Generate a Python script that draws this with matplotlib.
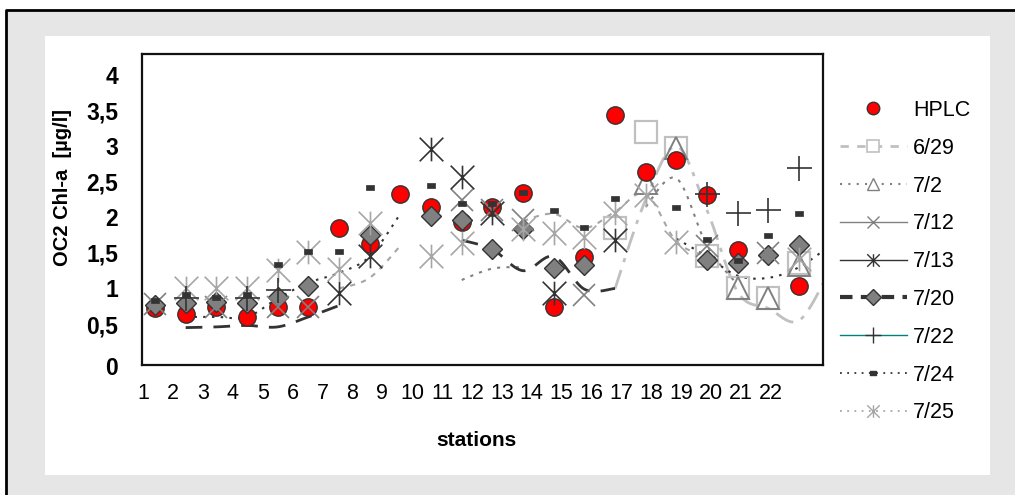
import numpy as np
import matplotlib
matplotlib.use("Agg")
import matplotlib.pyplot as plt
from matplotlib.path import Path
from matplotlib.lines import Line2D
from matplotlib.patches import Rectangle
from matplotlib.transforms import ScaledTranslation

plt.rcParams['font.family'] = ['Liberation Sans', 'DejaVu Sans']

nan = np.nan
stations = np.arange(1, 23)
curve_x = np.arange(1, 24)
tick_labels = [str(i) for i in range(1, 23)]
y_ticks = [0, 0.5, 1, 1.5, 2, 2.5, 3, 3.5, 4]
y_tick_labels = ["0", "0,5", "1", "1,5", "2", "2,5", "3", "3,5", "4"]

# Chl-a per station (NaN = no value)
hplc = [0.72, 0.64, 0.74, 0.60, 0.74, 0.74, 1.85, 1.63, 2.33, 2.15, 1.94,
        2.15, 2.34, 0.74, 1.44, 3.44, 2.64, 2.81, 2.32, 1.54, nan, 1.03]
d0629 = [nan, nan, nan, nan, nan, nan, nan, nan, nan, nan, nan,
         nan, nan, nan, nan, 1.85, 3.20, 2.97, 1.46, 1.00, 0.86, 1.36]
d0702 = [nan, nan, nan, nan, nan, nan, nan, nan, nan, nan, nan,
         nan, nan, nan, nan, nan, 2.48, 2.97, nan, 1.00, 0.86, 1.33]
d0712 = [0.78, nan, 0.74, nan, 0.74, 0.74, nan, nan, nan, nan, 2.24,
         2.10, 1.96, nan, 0.91, nan, nan, nan, 1.60, nan, 1.50, nan]
d0713 = [nan, nan, nan, nan, nan, nan, 0.93, 1.45, nan, 2.96, 2.57,
         2.06, nan, 0.93, nan, 1.68, nan, nan, nan, nan, nan, nan]
d0720 = [0.77, 0.79, 0.81, 0.80, 0.88, 1.03, nan, 1.75, nan, 2.02, 1.96,
         1.55, 1.83, 1.29, 1.33, nan, nan, nan, 1.40, 1.36, 1.47, 1.61]
d0722 = [nan, 0.86, nan, 0.86, 0.98, nan, nan, nan, nan, nan, nan,
         nan, nan, nan, nan, nan, nan, nan, 2.33, 2.06, 2.10, 2.70]
d0724 = [0.84, 0.92, 0.88, 0.92, 1.34, 1.53, 1.53, 2.43, nan, 2.45, 2.20,
         2.20, 2.36, 2.11, 1.87, 2.27, nan, 2.15, 1.69, 1.40, 1.75, 2.06]
d0725 = [nan, 1.00, 1.00, 1.00, 1.26, 1.52, 1.28, 1.92, nan, 1.45, 1.64,
         nan, 1.83, 1.78, 1.73, 2.06, 2.31, 1.66, nan, nan, nan, 1.42]

# smoothed connecting curves, stations 1..23 (NaN breaks the curve)
d0629_curve = [nan, nan, nan, nan, nan, nan, nan, nan, nan, nan, nan, nan,
               nan, nan, nan, 1.00, 2.25, 3.00, 2.10, 0.95, 0.72, 0.55, 1.25]
d0702_curve = [nan, nan, nan, nan, nan, nan, nan, nan, nan, nan, 1.12, 1.28,
               1.30, nan, nan, nan, 2.15, 2.55, 1.60, 1.05, nan, nan, nan]
d0720_curve = [nan, 0.45, 0.46, 0.48, 0.46, 0.60, 0.76, nan, nan, nan, 1.68,
               1.55, 1.25, 1.45, 0.99, 1.00, nan, nan, nan, nan, nan, nan, nan]
d0724_curve = [nan, 0.60, 0.60, 0.60, 0.86, 1.08, 1.22, 1.45, 2.05, nan, nan,
               nan, nan, nan, nan, nan, nan, 1.70, 1.45, 1.18, 1.15, 1.30, 1.60]
d0725_curve = [nan, nan, nan, nan, nan, nan, 1.00, 1.15, 1.60, nan, nan, nan,
               1.95, 2.05, 1.85, 2.08, 2.33, 1.66, 1.45, nan, nan, nan, nan]

DARK = "#333333"
GRAY = "#808080"
LIGHT = "#c0c0c0"
LIGHT2 = "#a6a6a6"

asterisk = Path([(-1, -1), (1, 1), (-1, 1), (1, -1), (0, -1), (0, 1)],
                [Path.MOVETO, Path.LINETO, Path.MOVETO, Path.LINETO,
                 Path.MOVETO, Path.LINETO])
bar_mark = Path([(-1, -0.6), (1, -0.6), (1, 0.6), (-1, 0.6), (-1, -0.6)],
                [Path.MOVETO, Path.LINETO, Path.LINETO, Path.LINETO,
                 Path.CLOSEPOLY])


def smooth_runs(x, y, n=16):
    """Split at NaNs and return Catmull-Rom smoothed runs."""
    x = np.asarray(x, float)
    y = np.asarray(y, float)
    runs, cur = [], []
    for xi, yi in zip(x, y):
        if np.isnan(yi):
            if cur:
                runs.append(cur)
            cur = []
        else:
            cur.append((xi, yi))
    if cur:
        runs.append(cur)
    out = []
    for r in runs:
        p = np.array(r)
        if len(p) < 2:
            continue
        xs, ys = [], []
        for i in range(len(p) - 1):
            p0 = p[i - 1] if i > 0 else p[i]
            p1, p2 = p[i], p[i + 1]
            p3 = p[i + 2] if i + 2 < len(p) else p[i + 1]
            for t in np.linspace(0, 1, n, endpoint=False):
                t2, t3 = t * t, t * t * t
                q = 0.5 * ((2 * p1) + (-p0 + p2) * t +
                           (2 * p0 - 5 * p1 + 4 * p2 - p3) * t2 +
                           (-p0 + 3 * p1 - 3 * p2 + p3) * t3)
                xs.append(q[0]); ys.append(q[1])
        xs.append(p[-1][0]); ys.append(p[-1][1])
        out.append((xs, ys))
    return out


W, H = 1015, 495
fig = plt.figure(figsize=(W / 100, H / 100), dpi=100)
fig.patch.set_facecolor("white")
# grey chart surround with a black rule along its top and left edges
fig.add_artist(Rectangle((6 / W, 0), 1, 1 - 10 / H, transform=fig.transFigure,
                         fc="#e6e6e6", ec="none", zorder=-10))
fig.add_artist(Line2D([6 / W, 6 / W, 1], [0, 1 - 10 / H, 1 - 10 / H],
                      transform=fig.transFigure, color="black", lw=2,
                      zorder=-8))
fig.add_artist(Rectangle((45 / W, 1 - 475 / H), (990 - 45) / W, (475 - 36) / H,
                         transform=fig.transFigure, fc="white", ec="none",
                         zorder=-9))

ax = fig.add_axes([141.7 / W, 1 - 364.5 / H, (823 - 141.7) / W, (364.5 - 54) / H])
ax.set_xlim(0.566, 22.78)
ax.set_ylim(-0.069, 4.298)
for s in ax.spines.values():
    s.set_linewidth(1.6)
    s.set_color("#111111")

curve_styles = [
    (d0629_curve, dict(color=LIGHT, lw=2.0, dashes=(7, 3, 1.5, 3))),
    (d0702_curve, dict(color=GRAY, lw=1.5, dashes=(1.5, 3))),
    (d0720_curve, dict(color=DARK, lw=2.0, dashes=(6, 4))),
    (d0724_curve, dict(color=DARK, lw=1.5, dashes=(1.2, 3))),
    (d0725_curve, dict(color=LIGHT2, lw=1.5, dashes=(2.5, 3))),
]
for vals, kw in curve_styles:
    for xs, ys in smooth_runs(curve_x, vals):
        ax.plot(xs, ys, zorder=2, **kw)

ax.plot(stations, d0629, ls="none", marker="s", ms=16, mfc="none",
        mec=LIGHT, mew=1.6, zorder=3)
ax.plot(stations, d0702, ls="none", marker="^", ms=16, mfc="none",
        mec=GRAY, mew=1.4, zorder=3)
ax.plot(stations, hplc, ls="none", marker="o", ms=12.5, mfc="#ff0000",
        mec=DARK, mew=1.0, zorder=4)
ax.plot(stations, d0720, ls="none", marker="D", ms=10, mfc=GRAY,
        mec=DARK, mew=1.0, zorder=5)
ax.plot(stations, d0712, ls="none", marker="x", ms=16, mec=GRAY,
        mew=1.2, zorder=6)
ax.plot(stations, d0725, ls="none", marker=asterisk, ms=17, mec=LIGHT2,
        mew=1.2, zorder=6)
ax.plot(stations, d0713, ls="none", marker=asterisk, ms=17, mec=DARK,
        mew=1.2, zorder=6)
ax.plot(stations, d0722, ls="none", marker="+", ms=18, mec=DARK,
        mew=1.2, zorder=6)
ax.plot(stations, d0724, ls="none", marker=bar_mark, ms=6, mfc=DARK,
        mec=DARK, mew=0.5, zorder=7)

tick_pos = 0.61 + 0.975 * np.arange(len(tick_labels))
ax.set_xticks(tick_pos)
ax.set_xticklabels(tick_labels, fontsize=15.5)
ax.set_yticks(y_ticks)
ax.set_yticklabels(y_tick_labels, fontsize=16.5, fontweight="bold")
ax.tick_params(axis="both", length=0)
ax.tick_params(axis="x", pad=13)
ax.tick_params(axis="y", pad=17)
zero_lbl = ax.get_yticklabels()[0]
zero_lbl.set_transform(zero_lbl.get_transform() +
                       ScaledTranslation(0, -6 / 100, fig.dpi_scale_trans))

ax.set_ylabel("OC2 Chl-a  [\u00b5g/l]", fontsize=14.5, fontweight="bold")
ax.yaxis.set_label_coords((62 - 141.7) / (823 - 141.7), (364.5 - 188) / (364.5 - 54))
ax.set_xlabel("stations", fontsize=15, fontweight="bold")
ax.xaxis.set_label_coords((476 - 141.7) / (823 - 141.7), -(441 - 364.5) / (364.5 - 54))
ax.xaxis.label.set_va("center")
ax.yaxis.label.set_va("center")

handles = [
    Line2D([], [], ls="none", marker="o", ms=9, mfc="#ff0000", mec=DARK, mew=1),
    Line2D([], [], color=LIGHT, lw=2, dashes=(3, 3), marker="s", ms=9,
           mfc="white", mec=LIGHT, mew=1.2),
    Line2D([], [], color=GRAY, lw=1.5, dashes=(1, 3), marker="^", ms=8,
           mfc="white", mec=GRAY, mew=1),
    Line2D([], [], color=GRAY, lw=1, marker="x", ms=9, mec=GRAY, mew=1),
    Line2D([], [], color=DARK, lw=1, marker=asterisk, ms=9, mec=DARK, mew=1),
    Line2D([], [], color=DARK, lw=3, dashes=(3, 2), marker="D", ms=8,
           mfc=GRAY, mec=DARK, mew=1),
    Line2D([], [], color="#008080", lw=1, marker="+", ms=11, mec=DARK, mew=1),
    Line2D([], [], color=DARK, lw=1.3, dashes=(1, 3), marker=bar_mark, ms=5,
           mfc=DARK, mec=DARK),
    Line2D([], [], color=LIGHT2, lw=1.3, dashes=(1, 3), marker=asterisk, ms=9,
           mec=LIGHT2, mew=1),
]
labels = ["HPLC", "6/29", "7/2", "7/12", "7/13", "7/20", "7/22", "7/24", "7/25"]
ax.legend(handles, labels, loc="upper left", bbox_to_anchor=(840 / W, 1 - 100 / H),
          bbox_transform=fig.transFigure, frameon=False, fontsize=15.5,
          handlelength=3.1, handletextpad=0.3, labelspacing=0.78,
          borderpad=0, borderaxespad=0)

fig.savefig("out.png", dpi=100)
